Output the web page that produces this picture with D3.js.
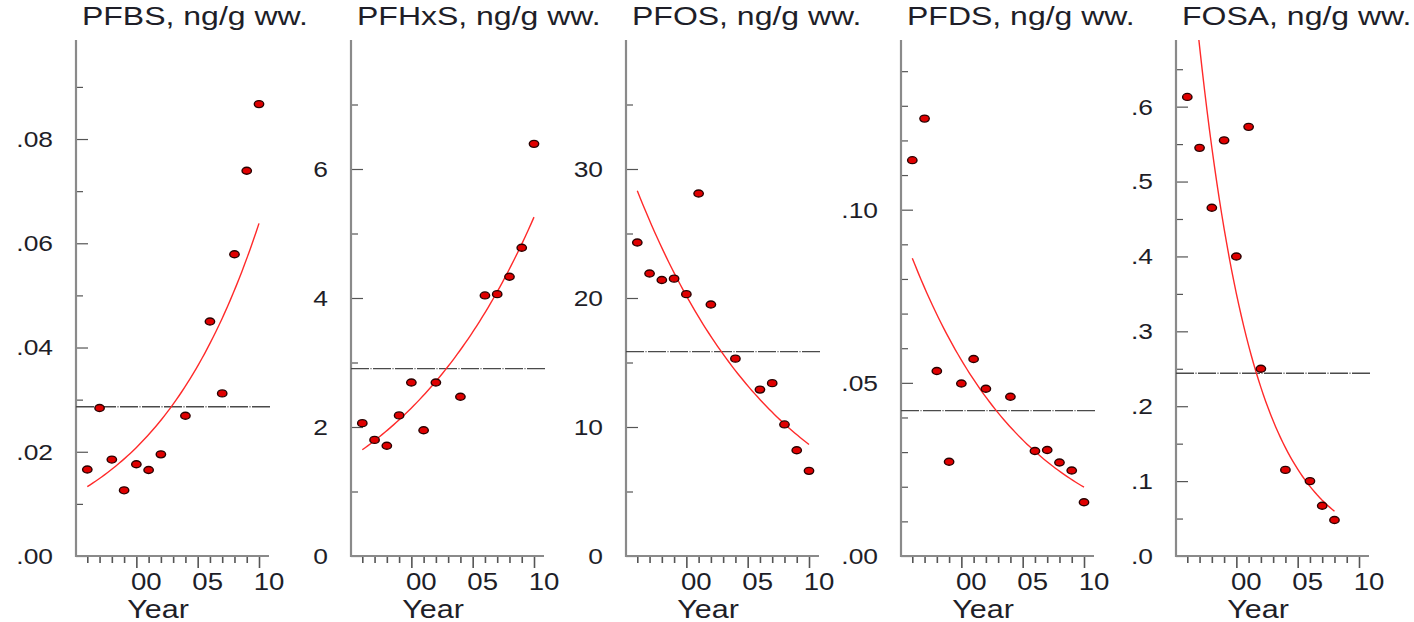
<!DOCTYPE html>
<html>
<head>
<meta charset="utf-8">
<script src="https://cdn.jsdelivr.net/npm/d3@7"></script>
<style>
  html, body { margin: 0; padding: 0; background: #fff; }
  svg { display: block; }
  text { font-family: "Liberation Sans", Arial, Helvetica, sans-serif; fill: #1e1e28; }
</style>
</head>
<body>
<svg id="chart" width="1414" height="622"></svg>
<script>
// ---------------- data ----------------
const titles = ["PFBS, ng/g ww.", "PFHxS, ng/g ww.", "PFOS, ng/g ww.", "PFDS, ng/g ww.", "FOSA, ng/g ww."];

const yearsMain = [1996, 1997, 1998, 1999, 2000, 2001, 2002, 2004, 2006, 2007, 2008, 2009, 2010];
const yearsFOSA = [1996, 1997, 1998, 1999, 2000, 2001, 2002, 2004, 2006, 2007, 2008];

const pfbs  = [0.0166, 0.0284, 0.0185, 0.0126, 0.0176, 0.0165, 0.0195, 0.0269, 0.0450, 0.0312, 0.0579, 0.0739, 0.0867];
const pfhxs = [2.06, 1.80, 1.71, 2.18, 2.69, 1.95, 2.69, 2.47, 4.04, 4.06, 4.33, 4.78, 6.39];
const pfos  = [24.3, 21.9, 21.4, 21.5, 20.3, 28.1, 19.5, 15.3, 12.9, 13.4, 10.2, 8.2, 6.6];
const pfds  = [0.1143, 0.1263, 0.0534, 0.0272, 0.0498, 0.0569, 0.0483, 0.0460, 0.0303, 0.0306, 0.0270, 0.0247, 0.0155];
const fosa  = [0.613, 0.545, 0.465, 0.555, 0.400, 0.573, 0.250, 0.115, 0.100, 0.067, 0.048];

const seriesValues = [pfbs, pfhxs, pfos, pfds, fosa];
const seriesYears  = [yearsMain, yearsMain, yearsMain, yearsMain, yearsFOSA];

const yMax = [0.099, 8.0, 40, 0.149, 0.689];

const yMajorTicks = [
  [0, 0.02, 0.04, 0.06, 0.08],
  [0, 2, 4, 6],
  [0, 10, 20, 30],
  [0, 0.05, 0.10],
  [0, 0.1, 0.2, 0.3, 0.4, 0.5, 0.6]
];
const yTickLabels = [
  [".00", ".02", ".04", ".06", ".08"],
  ["0", "2", "4", "6"],
  ["0", "10", "20", "30"],
  [".00", ".05", ".10"],
  [".0", ".1", ".2", ".3", ".4", ".5", ".6"]
];
const yMinorTicks = [
  [0.01, 0.03, 0.05, 0.07, 0.09],
  [1, 3, 5, 7],
  [5, 15, 25, 35],
  [0.01, 0.02, 0.03, 0.04, 0.06, 0.07, 0.08, 0.09, 0.11, 0.12, 0.13, 0.14],
  [0.05, 0.15, 0.25, 0.35, 0.45, 0.55, 0.65]
];

const xDomain = [1996, 2010];
const xMajorTicks = [2000, 2005, 2010];
const xTickLabels = ["00", "05", "10"];
const xMinorTicks = [1996, 1997, 1998, 1999, 2001, 2002, 2003, 2004, 2006, 2007, 2008, 2009];
const xAxisTitle = "Year";

// ---------------- layout ----------------
const svg = d3.select("#chart");
const panelStart = 76, panelStep = 275;
const plotTop = 40, plotBottom = 556;
const axisLen = 193;

function stretchedText(g, x, y, str, size, anchor, sx) {
  return g.append("text")
    .attr("transform", `translate(${x},${y}) scale(${sx},1)`)
    .attr("text-anchor", anchor)
    .style("font-size", size + "px")
    .text(str);
}

titles.forEach((title, i) => {
  const ax = panelStart + panelStep * i;
  const g = svg.append("g");
  const x = d3.scaleLinear().domain(xDomain).range([ax + 11.3, ax + 183]);
  const y = d3.scaleLinear().domain([0, yMax[i]]).range([plotBottom, plotTop]);

  const clipId = "clip" + i;
  svg.append("clipPath").attr("id", clipId)
    .append("rect").attr("x", ax).attr("y", plotTop).attr("width", axisLen + 4).attr("height", plotBottom - plotTop);

  // title
  stretchedText(g, ax + 6, 25, title, 25, "start", 1.28);

  // y axis
  const yAxis = d3.axisRight(y).tickValues(yMajorTicks[i]).tickSize(12).tickFormat("");
  const yAxisMinor = d3.axisRight(y).tickValues(yMinorTicks[i]).tickSize(7).tickFormat("");
  const gy = g.append("g").attr("transform", `translate(${ax},0)`).call(yAxis);
  const gym = g.append("g").attr("transform", `translate(${ax},0)`).call(yAxisMinor);
  [gy, gym].forEach(a => {
    a.select(".domain").remove();
    a.selectAll(".tick line").attr("stroke", "#555").attr("stroke-width", 1.2);
  });
  yMajorTicks[i].forEach((v, k) => {
    stretchedText(g, ax - 23, y(v), yTickLabels[i][k], 22, "end", 1.2).attr("dy", "0.36em");
  });

  // x axis
  const xAxis = d3.axisBottom(x).tickValues(xMajorTicks).tickSize(12).tickFormat("");
  const xAxisMinor = d3.axisBottom(x).tickValues(xMinorTicks).tickSize(7).tickFormat("");
  const gx = g.append("g").attr("transform", `translate(0,${plotBottom})`).call(xAxis);
  const gxm = g.append("g").attr("transform", `translate(0,${plotBottom})`).call(xAxisMinor);
  [gx, gxm].forEach(a => {
    a.select(".domain").remove();
    a.selectAll(".tick line").attr("stroke", "#555").attr("stroke-width", 1.6);
  });
  xMajorTicks.forEach((v, k) => {
    stretchedText(g, x(v) + 10, 590, xTickLabels[k], 23, "middle", 1.2);
  });
  stretchedText(g, ax + 82, 618, xAxisTitle, 25, "middle", 1.22);

  // axis lines
  g.append("line").attr("x1", ax).attr("x2", ax).attr("y1", plotTop).attr("y2", plotBottom + 1)
    .attr("stroke", "#8a8a8a").attr("stroke-width", 2.2);
  g.append("line").attr("x1", ax).attr("x2", ax + axisLen).attr("y1", plotBottom).attr("y2", plotBottom)
    .attr("stroke", "#8a8a8a").attr("stroke-width", 2.2);

  // data
  const yrs = seriesYears[i];
  const vals = seriesValues[i];
  const pts = yrs.map((yr, k) => ({ yr, v: vals[k] }));

  // log-linear regression (geometric mean line + exponential trend)
  const logs = pts.map(p => Math.log(p.v));
  const my = d3.mean(logs), mx = d3.mean(yrs);
  const sxy = d3.sum(pts, (p, k) => (p.yr - mx) * (logs[k] - my));
  const sxx = d3.sum(yrs, t => (t - mx) * (t - mx));
  const b = sxy / sxx;
  const geoMean = Math.exp(my);

  g.append("line")
    .attr("x1", ax).attr("x2", ax + axisLen + 2)
    .attr("y1", y(geoMean)).attr("y2", y(geoMean))
    .attr("stroke", "#4a4a4a").attr("stroke-width", 1.3)
    .attr("stroke-dasharray", "18,1.5,1,1.5");

  const yrMin = d3.min(yrs), yrMax = d3.max(yrs);
  const fitPts = d3.range(0, 61).map(j => {
    const t = yrMin + (yrMax - yrMin) * j / 60;
    return { t, v: Math.exp(my + b * (t - mx)) };
  });
  g.append("path")
    .datum(fitPts)
    .attr("clip-path", `url(#${clipId})`)
    .attr("fill", "none")
    .attr("stroke", "#ff2a2a")
    .attr("stroke-width", 1.4)
    .attr("d", d3.line().x(d => x(d.t)).y(d => y(d.v)).curve(d3.curveLinear));

  g.selectAll("ellipse.pt").data(pts).enter().append("ellipse")
    .attr("class", "pt")
    .attr("cx", d => x(d.yr)).attr("cy", d => y(d.v))
    .attr("rx", 4.7).attr("ry", 3.5)
    .attr("fill", "#e00000").attr("stroke", "#2a0000").attr("stroke-width", 1.4);
});
</script>
</body>
</html>
